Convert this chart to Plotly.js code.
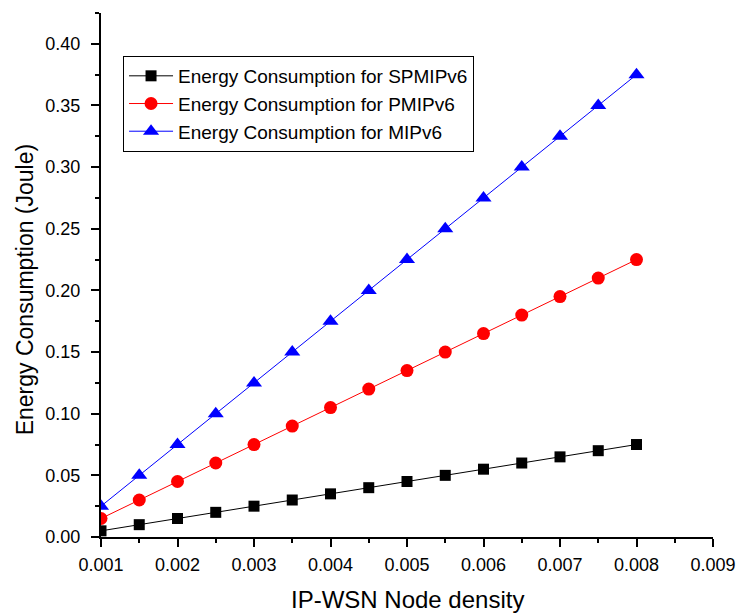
<!DOCTYPE html>
<html>
<head>
<meta charset="utf-8">
<script src="https://cdn.plot.ly/plotly-3.0.1.min.js"></script>
<style>html,body{margin:0;padding:0;background:#fff;}</style>
</head>
<body>
<div id="chart" style="width:736px;height:613px;"></div>
<script>
const nodeDensity = [0.001, 0.0015, 0.002, 0.0025, 0.003, 0.0035, 0.004, 0.0045, 0.005, 0.0055, 0.006, 0.0065, 0.007, 0.0075, 0.008];
const spmipv6 = [0.005, 0.010, 0.015, 0.020, 0.025, 0.030, 0.035, 0.040, 0.045, 0.050, 0.055, 0.060, 0.065, 0.070, 0.075];
const pmipv6 = [0.015, 0.030, 0.045, 0.060, 0.075, 0.090, 0.105, 0.120, 0.135, 0.150, 0.165, 0.180, 0.195, 0.210, 0.225];
const mipv6 = [0.025, 0.050, 0.075, 0.100, 0.125, 0.150, 0.175, 0.200, 0.225, 0.250, 0.275, 0.300, 0.325, 0.350, 0.375];
const seriesNames = ["Energy Consumption for SPMIPv6", "Energy Consumption for PMIPv6", "Energy Consumption for MIPv6"];
const xTickVals = [0.001, 0.002, 0.003, 0.004, 0.005, 0.006, 0.007, 0.008, 0.009];
const yTickVals = [0.00, 0.05, 0.10, 0.15, 0.20, 0.25, 0.30, 0.35, 0.40];
const xTitle = "IP-WSN Node density";
const yTitle = "Energy Consumption (Joule)";

const font = "Liberation Sans, Arial, sans-serif";
const traces = [
  {x: nodeDensity, y: spmipv6, name: seriesNames[0], mode: "lines+markers",
   line: {color: "#000000", width: 1}, marker: {symbol: "square", size: 11, color: "#000000"}},
  {x: nodeDensity, y: pmipv6, name: seriesNames[1], mode: "lines+markers",
   line: {color: "#ff0000", width: 1}, marker: {symbol: "circle", size: 13, color: "#ff0000"}},
  {x: nodeDensity, y: mipv6, name: seriesNames[2], mode: "lines+markers",
   line: {color: "#0000ff", width: 1}, marker: {symbol: "triangle-up", size: 14, color: "#0000ff"}}
];
const layout = {
  width: 736, height: 613,
  margin: {l: 101, r: 23, t: 13, b: 76},
  paper_bgcolor: "#fff", plot_bgcolor: "#fff",
  font: {family: font, color: "#000", size: 18},
  showlegend: true,
  legend: {x: 0.036, y: 0.918, xanchor: "left", yanchor: "top",
    bordercolor: "#000", borderwidth: 1, bgcolor: "#fff",
    font: {family: font, size: 19, color: "#000"}, tracegroupgap: 0, itemwidth: 44},
  xaxis: {range: [0.001, 0.009], tickvals: xTickVals, tickformat: ".3f",
    showgrid: false, zeroline: false, showline: true, linecolor: "#000", linewidth: 2,
    ticks: "outside", ticklen: 8, tickwidth: 2, tickcolor: "#000", ticklabelstandoff: 2,
    minor: {dtick: 0.0005, ticks: "outside", ticklen: 4, tickwidth: 1.5, tickcolor: "#000", showgrid: false},
    tickfont: {family: font, size: 18}},
  yaxis: {range: [0, 0.425], tickvals: yTickVals, tickformat: ".2f",
    showgrid: false, zeroline: false, showline: true, linecolor: "#000", linewidth: 2,
    ticks: "outside", ticklen: 8, tickwidth: 2, tickcolor: "#000", ticklabelstandoff: 7,
    minor: {dtick: 0.025, ticks: "outside", ticklen: 4, tickwidth: 1.5, tickcolor: "#000", showgrid: false},
    tickfont: {family: font, size: 18}},
  annotations: [
    {text: xTitle, xref: "paper", yref: "paper", x: 0.5, y: -0.120, xanchor: "center", yanchor: "middle",
     showarrow: false, font: {family: font, size: 24, color: "#000"}},
    {text: yTitle, xref: "paper", yref: "paper", x: -0.124, y: 0.471, xanchor: "center", yanchor: "middle",
     textangle: -90, showarrow: false, font: {family: font, size: 23, color: "#000"}}
  ]
};
Plotly.newPlot("chart", traces, layout, {displayModeBar: false});
</script>
</body>
</html>
